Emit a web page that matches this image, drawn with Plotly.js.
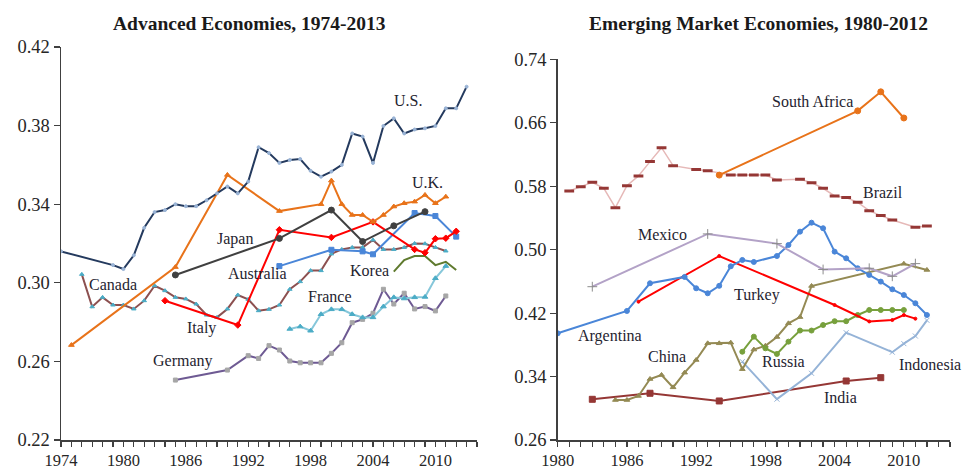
<!DOCTYPE html>
<html>
<head>
<meta charset="utf-8">
<script src="https://cdn.plot.ly/plotly-3.0.1.min.js"></script>
<style>html,body{margin:0;padding:0;background:#fff;}#chart{width:962px;height:469px;}</style>
</head>
<body>
<div id="chart"></div>
<script>
// ---------- Advanced economies ----------
const usYears = [1974,1979,1980,1981,1982,1983,1984,1985,1986,1987,1988,1989,1990,1991,1992,1993,1994,1995,1996,1997,1998,1999,2000,2001,2002,2003,2004,2005,2006,2007,2008,2009,2010,2011,2012,2013];
const usVals  = [0.316,0.309,0.307,0.314,0.328,0.336,0.337,0.340,0.339,0.339,0.342,0.3455,0.349,0.3455,0.3515,0.369,0.366,0.361,0.3625,0.363,0.357,0.354,0.3566,0.360,0.376,0.3744,0.361,0.3798,0.3837,0.376,0.378,0.3786,0.3798,0.3888,0.3888,0.3998];

const ukYears = [1975,1985,1990,1995,1999,2000,2001,2002,2003,2004,2005,2006,2007,2008,2009,2010,2011];
const ukVals  = [0.2683,0.308,0.3549,0.3365,0.340,0.352,0.340,0.3345,0.3345,0.331,0.3345,0.3388,0.3405,0.3413,0.3447,0.3405,0.3438];

const japanYears = [1985,1995,2000,2003,2006,2009];
const japanVals  = [0.304,0.3226,0.337,0.321,0.3290,0.3362];

const italyYears = [1984,1991,1995,2000,2004,2008,2009,2010,2011,2012];
const italyVals  = [0.2909,0.2785,0.327,0.3231,0.331,0.317,0.3153,0.3224,0.3227,0.3262];

const australiaYears = [1995,2000,2003,2004,2008,2010,2012];
const australiaVals  = [0.3085,0.3168,0.3160,0.3145,0.3355,0.3340,0.3235];

const canadaYears = [1976,1977,1978,1979,1980,1981,1982,1983,1984,1985,1986,1987,1988,1989,1990,1991,1992,1993,1994,1995,1996,1997,1998,1999,2000,2001,2002,2003,2004,2005,2006,2007,2008,2009,2010,2011];
const canadaVals  = [0.3043,0.2878,0.2926,0.2887,0.2887,0.2867,0.2909,0.2985,0.2960,0.2926,0.2918,0.2892,0.2836,0.2824,0.2867,0.2938,0.2916,0.2858,0.2865,0.2887,0.2967,0.3006,0.3062,0.3062,0.3147,0.3170,0.3180,0.3180,0.3218,0.3170,0.3170,0.3180,0.3200,0.3199,0.3180,0.3162];

const koreaYears = [2006,2007,2008,2009,2010,2011,2012];
const koreaVals  = [0.3057,0.3116,0.3136,0.3136,0.3090,0.3107,0.3065];

const franceYears = [1996,1997,1998,1999,2000,2001,2002,2003,2004,2005,2006,2007,2008,2009,2010,2011];
const franceVals  = [0.2765,0.2777,0.2756,0.2840,0.2865,0.2865,0.2840,0.2824,0.2824,0.2879,0.2926,0.2920,0.2926,0.2928,0.3023,0.3085];

const germanyYears = [1985,1990,1992,1993,1994,1995,1996,1997,1998,1999,2000,2001,2002,2003,2004,2005,2006,2007,2008,2009,2010,2011];
const germanyVals  = [0.2505,0.2556,0.2629,0.2615,0.2680,0.2658,0.2602,0.2593,0.2593,0.2593,0.2641,0.2695,0.2797,0.2814,0.2845,0.2967,0.2892,0.2947,0.2867,0.2879,0.2857,0.2933];

// ---------- Emerging market economies ----------
const southAfricaYears = [1994,2006,2008,2010];
const southAfricaVals  = [0.594,0.675,0.699,0.666];

const brazilYears = [1981,1982,1983,1984,1985,1986,1987,1988,1989,1990,1992,1993,1995,1996,1997,1998,1999,2001,2002,2003,2004,2005,2006,2007,2008,2009,2011,2012];
const brazilVals  = [0.574,0.5794,0.585,0.5774,0.5529,0.5807,0.593,0.611,0.6286,0.6059,0.6010,0.5996,0.5942,0.5942,0.5942,0.5942,0.5879,0.5887,0.5845,0.5774,0.5677,0.5656,0.5597,0.5492,0.5429,0.5374,0.5282,0.5298];

const mexicoYears = [1983,1993,1999,2003,2007,2009,2011];
const mexicoVals  = [0.4533,0.5198,0.5076,0.4750,0.4765,0.4664,0.4824];

const argentinaYears = [1980,1986,1988,1991,1992,1993,1994,1995,1996,1997,1999,2000,2001,2002,2003,2004,2005,2006,2007,2008,2009,2010,2011,2012];
const argentinaVals  = [0.3945,0.4227,0.4576,0.4656,0.4513,0.4450,0.4544,0.4790,0.4870,0.4845,0.4920,0.5059,0.5227,0.5340,0.5270,0.4975,0.4891,0.4765,0.4681,0.4597,0.4500,0.4428,0.4324,0.4176];

const turkeyYears = [1987,1994,2004,2007,2009,2010,2011];
const turkeyVals  = [0.4344,0.4920,0.4302,0.4095,0.4113,0.4176,0.4130];

const chinaYears = [1985,1986,1987,1988,1989,1990,1991,1992,1993,1994,1995,1996,1997,1998,1999,2000,2001,2002,2010,2012];
const chinaVals  = [0.3104,0.3104,0.3155,0.3369,0.3420,0.3264,0.3449,0.3609,0.3819,0.3819,0.3827,0.3493,0.3740,0.3788,0.3899,0.4071,0.4150,0.4542,0.4822,0.4744];

const russiaYears = [1996,1997,1998,1999,2000,2001,2002,2003,2004,2005,2006,2007,2008,2009,2010];
const russiaVals  = [0.3713,0.3903,0.3756,0.3685,0.3840,0.3980,0.3980,0.4050,0.4098,0.4098,0.4176,0.4239,0.4239,0.4239,0.4239];

const indonesiaYears = [1996,1999,2002,2005,2009,2010,2011,2012];
const indonesiaVals  = [0.3588,0.3115,0.3441,0.3953,0.3707,0.3815,0.3911,0.4109];

const indiaYears = [1983,1988,1994,2005,2008];
const indiaVals  = [0.3113,0.3189,0.3092,0.3344,0.3386];

// tick labels
const leftYTicks = [0.22,0.26,0.30,0.34,0.38,0.42];
const rightYTicks = [0.26,0.34,0.42,0.50,0.58,0.66,0.74];

// ---------- build ----------
function tr(x, y, lineColor, sym, mColor, mSize, axis, lw) {
  return {
    x: x, y: y, type: 'scatter', mode: sym ? 'lines+markers' : 'lines',
    line: {color: lineColor, width: lw || 2},
    marker: {symbol: sym || 'circle', color: mColor, size: mSize, line: {color: mColor, width: 1}},
    xaxis: axis === 2 ? 'x2' : 'x', yaxis: axis === 2 ? 'y2' : 'y',
    hoverinfo: 'x+y', showlegend: false
  };
}

const data = [
  tr(germanyYears, germanyVals, '#6E5A93', 'square', '#A6A6A6', 4, 1),
  tr(franceYears, franceVals, '#86C7DA', 'triangle-up', '#4BACC6', 5, 1),
  tr(canadaYears, canadaVals, '#8C5050', 'triangle-up', '#4BACC6', 4, 1),
  tr(koreaYears, koreaVals, '#5F7A2E', null, null, 0, 1),
  tr(australiaYears, australiaVals, '#4A86D8', 'square', '#4A86D8', 5, 1),
  tr(italyYears, italyVals, '#FF0000', 'diamond', '#FF0000', 5, 1),
  tr(japanYears, japanVals, '#404040', 'circle', '#404040', 6, 1),
  tr(ukYears, ukVals, '#E8731A', 'triangle-up', '#E8731A', 5, 1),
  tr(usYears, usVals, '#243A5E', 'circle', '#9AB4D6', 3, 1),

  tr(indiaYears, indiaVals, '#953735', 'square', '#953735', 6, 2),
  tr(indonesiaYears, indonesiaVals, '#95B3D7', 'x-thin', '#95B3D7', 5, 2),
  tr(chinaYears, chinaVals, '#948A54', 'triangle-up', '#948A54', 5, 2),
  tr(russiaYears, russiaVals, '#77A03C', 'circle', '#77A03C', 5, 2),
  tr(turkeyYears, turkeyVals, '#FF0000', 'circle', '#FF0000', 3, 2),
  tr(argentinaYears, argentinaVals, '#4A86D8', 'circle', '#4A86D8', 5, 2),
  tr(mexicoYears, mexicoVals, '#B3A2C7', 'cross-thin', '#8C8C8C', 7, 2),
  tr(brazilYears, brazilVals, '#E6B9B8', 'line-ew', '#953735', 7, 2, 1.5),
  tr(southAfricaYears, southAfricaVals, '#E8731A', 'circle', '#E8731A', 6, 2)
];
data[data.length-2].marker.line.width = 3;

const serif = 'Liberation Serif, Times New Roman, serif';
const axisCommon = {
  showgrid: false, zeroline: false, showline: true, linecolor: '#404040', linewidth: 1.5,
  ticks: 'outside', ticklen: 6, tickwidth: 1.2, tickcolor: '#404040',
  tickfont: {family: serif, size: 18.5, color: '#262626'}, fixedrange: true
};

function lab(text, x, y, axis) {
  return {text: text, x: x, y: y, xref: axis === 2 ? 'x2' : 'x', yref: axis === 2 ? 'y2' : 'y',
    showarrow: false, font: {family: serif, size: 16, color: '#1F2430'}};
}

const layout = {
  width: 962, height: 469,
  margin: {l: 0, r: 0, t: 0, b: 0},
  paper_bgcolor: '#ffffff', plot_bgcolor: '#ffffff',
  xaxis: Object.assign({}, axisCommon, {domain: [61/962, 477/962], range: [1974, 2014], tick0: 1974, dtick: 6,
    ticklen: 5, tickfont: {family: serif, size: 16.5, color: '#262626'},
    minor: {dtick: 1, ticks: 'outside', ticklen: 5, tickcolor: '#404040', tickwidth: 1.2}, anchor: 'y'}),
  yaxis: Object.assign({}, axisCommon, {domain: [29/469, 422/469], range: [0.22, 0.42], tickvals: leftYTicks, tickformat: '.2f', anchor: 'x'}),
  xaxis2: Object.assign({}, axisCommon, {domain: [557.7/962, 950/962], range: [1980, 2014], tick0: 1980, dtick: 6,
    ticklen: 5, tickfont: {family: serif, size: 16.5, color: '#262626'},
    minor: {dtick: 1, ticks: 'outside', ticklen: 5, tickcolor: '#404040', tickwidth: 1.2}, anchor: 'y2'}),
  yaxis2: Object.assign({}, axisCommon, {domain: [29/469, 409.7/469], range: [0.26, 0.74], tickvals: rightYTicks, tickformat: '.2f', anchor: 'x2'}),
  annotations: [
    {text: '<b>Advanced Economies, 1974-2013</b>', x: 249/962, y: (469-24)/469, xref: 'paper', yref: 'paper',
      xanchor: 'center', yanchor: 'middle', showarrow: false,
      font: {family: serif, size: 19.5, color: '#1a1a1a'}},
    {text: '<b>Emerging Market Economies, 1980-2012</b>', x: 758/962, y: (469-24)/469, xref: 'paper', yref: 'paper',
      xanchor: 'center', yanchor: 'middle', showarrow: false,
      font: {family: serif, size: 19.5, color: '#1a1a1a'}},
    lab('U.S.', 2007.4, 0.393, 1),
    lab('U.K.', 2009.2, 0.3513, 1),
    lab('Japan', 1990.7, 0.3223, 1),
    lab('Canada', 1979.0, 0.2989, 1),
    lab('Australia', 1992.85, 0.3045, 1),
    lab('Korea', 2003.7, 0.3065, 1),
    lab('France', 1999.9, 0.2928, 1),
    lab('Italy', 1987.5, 0.277, 1),
    lab('Germany', 1985.7, 0.2602, 1),
    lab('South Africa', 2002.06, 0.6862, 2),
    lab('Brazil', 2008.2, 0.5715, 2),
    lab('Mexico', 1989.05, 0.5185, 2),
    lab('Turkey', 1997.3, 0.4428, 2),
    lab('Argentina', 1984.5, 0.3911, 2),
    lab('China', 1989.5, 0.3647, 2),
    lab('Russia', 1999.54, 0.3584, 2),
    lab('Indonesia', 2012.3, 0.3558, 2),
    lab('India', 2004.5, 0.313, 2)
  ]
};

Plotly.newPlot('chart', data, layout, {staticPlot: true, displayModeBar: false});
</script>
</body>
</html>
